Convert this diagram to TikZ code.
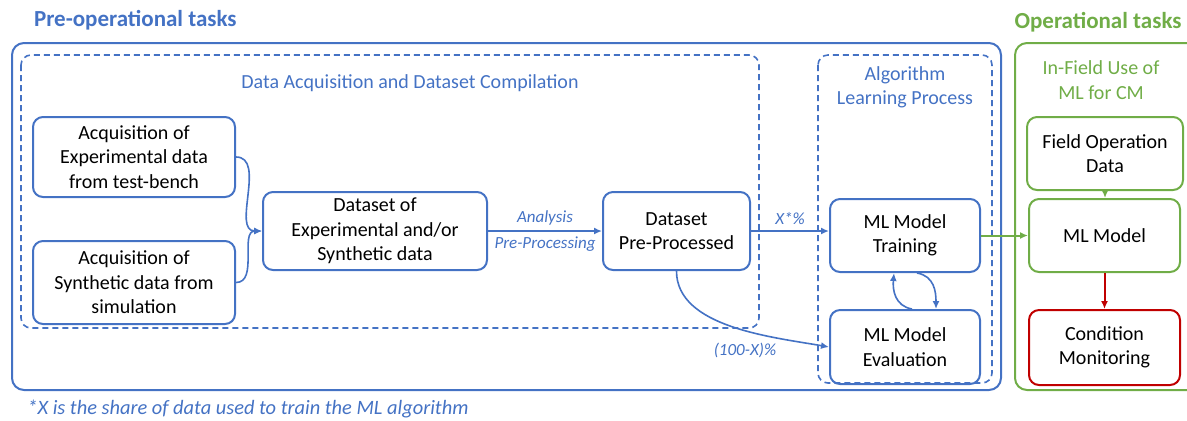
\documentclass[tikz,border=0pt]{standalone}
\usepackage{fontspec}
\setmainfont{Carlito}
\usetikzlibrary{arrows.meta}
\definecolor{mlblue}{HTML}{4472C4}
\definecolor{mlgreen}{HTML}{70AD47}
\definecolor{mlred}{HTML}{C00000}

\begin{document}
\begin{tikzpicture}[x=0.5pt,y=-0.5pt,
  box/.style={draw=mlblue,line width=1pt,rounded corners=5pt,align=center,
    inner sep=0pt,font=\fontsize{10}{12.2}\selectfont},
  gbox/.style={box,draw=mlgreen},
  rbox/.style={box,draw=mlred},
  flow/.style={draw=mlblue,line width=0.8pt,-{Latex[length=4pt,width=3.5pt]}},
  gflow/.style={flow,draw=mlgreen,line width=1pt},
  rflow/.style={flow,draw=mlred,line width=1pt},
  dashbox/.style={draw=mlblue,line width=0.8pt,dash pattern=on 3pt off 2pt,rounded corners=5pt},
  grp/.style={align=center,font=\fontsize{10}{12.2}\selectfont},
  lbl/.style={text=mlblue,inner sep=1pt,font=\fontsize{8.5}{10}\selectfont\itshape},
  title/.style={font=\fontsize{11.5}{13}\selectfont\bfseries}]
\useasboundingbox (0,0) rectangle (1187,420);

% frames
\draw[draw=mlblue,line width=1pt,rounded corners=6pt] (12,43) rectangle (1001,390);
\draw[draw=mlgreen,line width=1pt,rounded corners=6pt] (1015,43) rectangle (1205,390);
\draw[dashbox] (21,55) rectangle (759,328);
\draw[dashbox] (818,55) rectangle (992,383);

\node[anchor=west,text=mlblue,title] (pretitle) at (27,20) {Pre-operational tasks};
\node[text=mlgreen,title] (optitle) at (1098,22) {Operational tasks};
\node[grp,text=mlblue] (acqtitle) at (410,83) {Data Acquisition and Dataset Compilation};
\node[grp,text=mlblue] (algtitle) at (905,87) {Algorithm\\Learning Process};
\node[grp,text=mlgreen] (fieldtitle) at (1101,80) {In-Field Use of\\ML for CM};

% nodes
\node[box,minimum width=101pt,minimum height=40pt] (expdata) at (134,157) {Acquisition of\\Experimental data\\from test-bench};
\node[box,minimum width=101pt,minimum height=41.5pt] (syndata) at (134,282.5) {Acquisition of\\Synthetic data from\\simulation};
\node[box,minimum width=112pt,minimum height=39pt] (dataset) at (375,231) {Dataset of\\Experimental and/or\\Synthetic data};
\node[box,minimum width=73.5pt,minimum height=39pt] (preproc) at (676.5,231) {Dataset\\Pre-Processed};
\node[box,minimum width=75pt,minimum height=36.5pt] (training) at (905,235.5) {ML Model\\Training};
\node[box,minimum width=75pt,minimum height=37pt] (evaluation) at (905,347) {ML Model\\Evaluation};
\node[gbox,minimum width=78pt,minimum height=36.5pt] (fielddata) at (1105,153.5) {Field Operation\\Data};
\node[gbox,minimum width=75.5pt,minimum height=36.5pt] (mlmodel) at (1104.5,235.5) {ML Model};
\node[rbox,minimum width=75.5pt,minimum height=37.5pt] (monitoring) at (1104.5,347.5) {Condition\\Monitoring};

% connectors
\draw[flow] (expdata.east) to[out=0,in=180] (dataset.west);
\draw[flow] (syndata.east) to[out=0,in=180] (dataset.west);
\draw[flow] (dataset.east) -- (preproc.west)
  node[lbl,midway,above=1.5pt] (analysis) {Analysis}
  node[lbl,midway,below=1.5pt] (preprocessing) {Pre-Processing};
\draw[flow] (preproc.east) -- (preproc.east -| training.west)
  node[lbl,midway,above=2pt] (xshare) {X*\%};
\draw[flow] (preproc.south) to[out=-90,in=170,looseness=0.85] (evaluation.west);
\node[lbl] (restshare) at (745,350) {(100-X)\%};
\draw[flow] ([xshift=3.5pt]evaluation.north) to[out=170,in=-95,looseness=1.1] ([xshift=-5.5pt]training.south);
\draw[flow] ([xshift=6pt]training.south) to[out=-10,in=90,looseness=1.1] ([xshift=15.5pt]evaluation.north);
\draw[gflow] (training.east) -- (training.east -| mlmodel.west);
\draw[gflow] (fielddata.south) -- (fielddata.south |- mlmodel.north);
\draw[rflow] (mlmodel.south) -- (monitoring.north);

\node[anchor=west,lbl,font=\fontsize{10.2}{12}\selectfont\itshape] (footnote) at (25,409) {*X is the share of data used to train the ML algorithm};
\end{tikzpicture}
\end{document}
